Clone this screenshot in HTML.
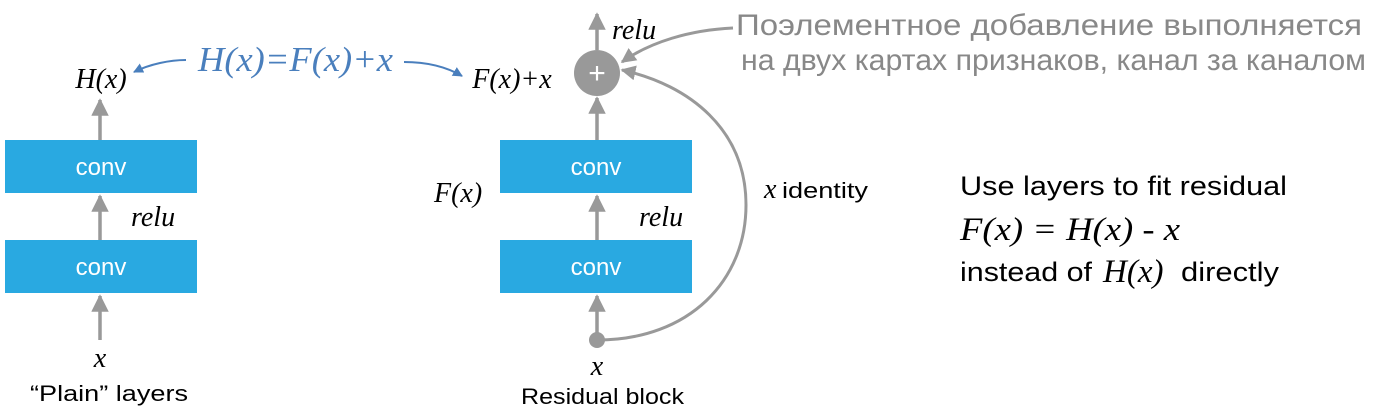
<!DOCTYPE html>
<html><head><meta charset="utf-8"><style>
html,body{margin:0;padding:0;background:#fff;width:1400px;height:420px;overflow:hidden}
svg{display:block}
.s{font-family:"Liberation Sans",sans-serif}
.m{font-family:"Liberation Serif",serif;font-style:italic}
</style></head><body>
<svg width="1400" height="420" viewBox="0 0 1400 420" xmlns="http://www.w3.org/2000/svg">
<defs>
<marker id="a" viewBox="0 0 10 10" refX="9" refY="5" markerWidth="5" markerHeight="5" orient="auto"><path d="M0,0 L10,5 L0,10 z" fill="#999"/></marker>
<marker id="b" viewBox="0 0 10 10" refX="9" refY="5" markerWidth="5" markerHeight="5" orient="auto"><path d="M0,0 L10,5 L0,10 z" fill="#4a7fbd"/></marker>
</defs>
<g stroke="#999" stroke-width="3.5" fill="none">
<line x1="100" y1="340" x2="100" y2="296" marker-end="url(#a)"/>
<line x1="100" y1="240" x2="100" y2="196" marker-end="url(#a)"/>
<line x1="100" y1="140" x2="100" y2="100" marker-end="url(#a)"/>
<line x1="597" y1="340" x2="597" y2="296" marker-end="url(#a)"/>
<line x1="597" y1="240" x2="597" y2="196" marker-end="url(#a)"/>
<line x1="597" y1="140" x2="597" y2="98" marker-end="url(#a)"/>
<line x1="597" y1="50" x2="597" y2="14" marker-end="url(#a)"/>
<path d="M597,340 C690,340 746,280 746,205 C746,130 690,85 622,70" marker-end="url(#a)" stroke-width="3"/>
<path d="M733,28 C690,30 650,42 622,62" marker-end="url(#a)" stroke-width="3"/>
</g>
<g stroke="#4a7fbd" stroke-width="2" fill="none">
<path d="M186,60 C170,60 150,64 134,72" marker-end="url(#b)"/>
<path d="M404,62 C425,62 445,66 462,76" marker-end="url(#b)"/>
</g>
<circle cx="597" cy="340" r="8" fill="#999"/>
<circle cx="597" cy="73" r="23" fill="#999"/>
<text x="597" y="83" text-anchor="middle" class="s" font-size="30" fill="#fff">+</text>
<rect x="5" y="140" width="192" height="53" fill="#29a9e1"/>
<rect x="5" y="240" width="192" height="53" fill="#29a9e1"/>
<rect x="500" y="140" width="192" height="53" fill="#29a9e1"/>
<rect x="500" y="240" width="192" height="53" fill="#29a9e1"/>
<g class="s" font-size="24" fill="#fff" text-anchor="middle">
<text x="101" y="175">conv</text><text x="101" y="275">conv</text>
<text x="596" y="175">conv</text><text x="596" y="275">conv</text>
</g>
<g class="m" font-size="28" fill="#000">
<text x="101" y="88" text-anchor="middle">H(x)</text>
<text x="131" y="226">relu</text>
<text x="100" y="367" text-anchor="middle">x</text>
<text x="512" y="88" text-anchor="middle">F(x)+x</text>
<text x="612" y="39">relu</text>
<text x="434" y="202">F(x)</text>
<text x="639" y="226">relu</text>
<text x="597" y="375" text-anchor="middle">x</text>
<text x="764" y="198">x</text>
<text x="960" y="240" font-size="33" textLength="220" lengthAdjust="spacingAndGlyphs">F(x) = H(x) - x</text>
<text x="1103" y="282" font-size="33">H(x)</text>
</g>
<text x="198" y="71" class="m" font-size="35" fill="#4a7fbd" textLength="195" lengthAdjust="spacingAndGlyphs">H(x)=F(x)+x</text>
<g class="s" fill="#000">
<text x="30" y="401" font-size="22" textLength="158" lengthAdjust="spacingAndGlyphs">“Plain” layers</text>
<text x="521" y="404" font-size="22" textLength="163" lengthAdjust="spacingAndGlyphs">Residual block</text>
<text x="782" y="198" font-size="22" textLength="86" lengthAdjust="spacingAndGlyphs">identity</text>
<text x="960" y="195" font-size="27" textLength="327" lengthAdjust="spacingAndGlyphs">Use layers to fit residual</text>
<text x="960" y="281" font-size="27" textLength="132" lengthAdjust="spacingAndGlyphs">instead of</text>
<text x="1181" y="281" font-size="27" textLength="98" lengthAdjust="spacingAndGlyphs">directly</text>
</g>
<g class="s" fill="#888" font-size="30">
<text x="736" y="35" textLength="626" lengthAdjust="spacingAndGlyphs">Поэлементное добавление выполняется</text>
<text x="741" y="70" textLength="625" lengthAdjust="spacingAndGlyphs">на двух картах признаков, канал за каналом</text>
</g>
</svg>
</body></html>
